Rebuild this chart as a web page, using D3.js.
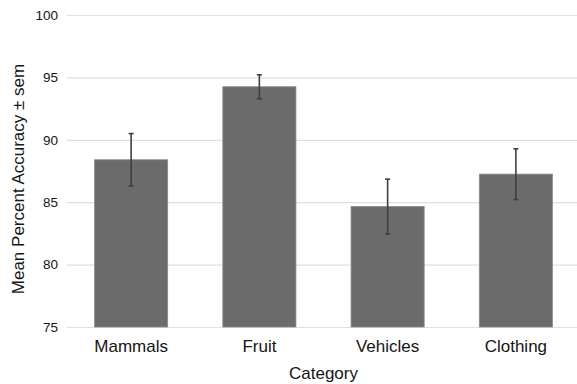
<!DOCTYPE html>
<html>
<head>
<meta charset="utf-8">
<script src="https://cdn.jsdelivr.net/npm/d3@7"></script>
<style>
  body { margin: 0; background: #fff; }
  text { font-family: Arial, 'Liberation Sans', sans-serif; fill: #151515; }
</style>
</head>
<body>
<div id="chart"></div>
<script>
// Chart data
const categories = ['Mammals', 'Fruit', 'Vehicles', 'Clothing'];
const means = [88.4, 94.25, 84.65, 87.25];
const sems = [2.1, 0.96, 2.2, 2.03];
const yTicks = [75, 80, 85, 90, 95, 100];

const width = 577, height = 384;
const margin = { top: 15, right: -3, bottom: 57, left: 67 };

const svg = d3.select('#chart').append('svg')
  .attr('width', width)
  .attr('height', height);

const x = d3.scaleBand()
  .domain(categories)
  .range([margin.left, width - margin.right])
  .paddingInner(0.43)
  .paddingOuter(0.215);

const y = d3.scaleLinear()
  .domain([75, 100])
  .range([height - margin.bottom, margin.top]);

// Gridlines + tick labels
const yAxis = svg.append('g')
  .attr('transform', `translate(${margin.left},0)`)
  .call(d3.axisLeft(y).tickValues(yTicks).tickSize(-(width - margin.left)).tickPadding(9));
yAxis.select('.domain').remove();
yAxis.selectAll('.tick line').attr('stroke', '#e0e0e0').attr('stroke-width', 1.2);
yAxis.selectAll('.tick text').style('font-size', '13.5px').attr('fill', '#151515');

// Bars
svg.append('g')
  .selectAll('rect')
  .data(categories)
  .join('rect')
  .attr('x', d => x(d))
  .attr('y', (d, i) => y(means[i]))
  .attr('width', x.bandwidth())
  .attr('height', (d, i) => y(75) - y(means[i]))
  .attr('fill', '#6b6b6b')
  .attr('stroke', '#8a8a8a')
  .attr('stroke-width', 0.8);

// Error bars
const err = svg.append('g')
  .attr('stroke', '#3f3f3f')
  .attr('stroke-width', 1.6);
categories.forEach((c, i) => {
  const cx = x(c) + x.bandwidth() / 2;
  const hi = y(means[i] + sems[i]);
  const lo = y(means[i] - sems[i]);
  err.append('line').attr('x1', cx).attr('x2', cx).attr('y1', hi).attr('y2', lo);
  err.append('line').attr('x1', cx - 2.5).attr('x2', cx + 2.5).attr('y1', hi).attr('y2', hi);
  err.append('line').attr('x1', cx - 2.5).attr('x2', cx + 2.5).attr('y1', lo).attr('y2', lo);
});

// Category labels
svg.append('g')
  .selectAll('text')
  .data(categories)
  .join('text')
  .attr('x', d => x(d) + x.bandwidth() / 2)
  .attr('y', height - margin.bottom + 25)
  .attr('text-anchor', 'middle')
  .style('font-size', '17px')
  .text(d => d);

// Axis titles
svg.append('text')
  .attr('x', (margin.left + width - margin.right) / 2)
  .attr('y', 379)
  .attr('text-anchor', 'middle')
  .style('font-size', '17px')
  .text('Category');

svg.append('text')
  .attr('transform', `translate(24,179) rotate(-90)`)
  .attr('text-anchor', 'middle')
  .style('font-size', '17px')
  .text('Mean Percent Accuracy ± sem');
</script>
</body>
</html>
